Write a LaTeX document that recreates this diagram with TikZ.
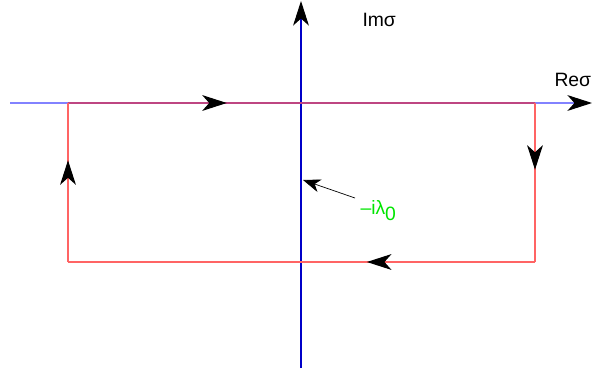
\documentclass[tikz,border=0pt]{standalone}
\usepackage{fontspec}
\setmainfont{Liberation Sans}
\usetikzlibrary{arrows.meta,decorations.markings,positioning}
\definecolor{overlap}{RGB}{190,70,130}
\definecolor{realaxis}{RGB}{130,130,255}
\definecolor{imagaxis}{RGB}{0,0,200}
\definecolor{contour}{RGB}{255,100,100}

\begin{document}
\begin{tikzpicture}[x=0.02cm, y=-0.02cm, font=\fontsize{11}{13}\selectfont, line width=0.6pt,
 head/.style={-{Stealth[length=14pt,width=9pt,inset=4pt,black]}},
 mid/.style={postaction={decorate}, decoration={markings, mark=at position #1 with {\arrow{Stealth[length=14pt,width=9pt,inset=4pt,black]}}}},
 edge/.style={draw=contour}]
\useasboundingbox (0,0) rectangle (593,372);
% axes
\coordinate (xl) at (10,103);
\coordinate (xr) at (592,103);
\coordinate (yb) at (301,368);
\coordinate (yt) at (301,1);
\draw[realaxis, head] (xl) -- (xr);
\draw[imagaxis, head] (yb) -- (yt);
\node[anchor=west, inner sep=0pt] (im) at (362,20) {Imσ};
\node[anchor=west, inner sep=0pt] (re) at (554,80) {Reσ};
% contour
\coordinate (tl) at (68,103);
\coordinate (tr) at (535,103);
\coordinate (br) at (535,262);
\coordinate (bl) at (68,262);
\draw[edge, draw=overlap, mid=0.34] (tl) -- (tr);
\draw[edge, mid=0.42] (tr) -- (br);
\draw[edge, mid=0.36] (br) -- (bl);
\draw[edge, mid=0.64] (bl) -- (tl);
% pole
\node[anchor=west, inner sep=0pt, text=green!90!black] (lam) at (360,211) {–iλ\raisebox{-3.5pt}{0}};
\coordinate (pole) at (303,180);
\coordinate (tail) at (355,198);
\draw[line width=0.4pt, {Stealth[length=10pt,width=7.5pt,inset=3pt]}-] (pole) -- (tail);
\end{tikzpicture}
\end{document}
